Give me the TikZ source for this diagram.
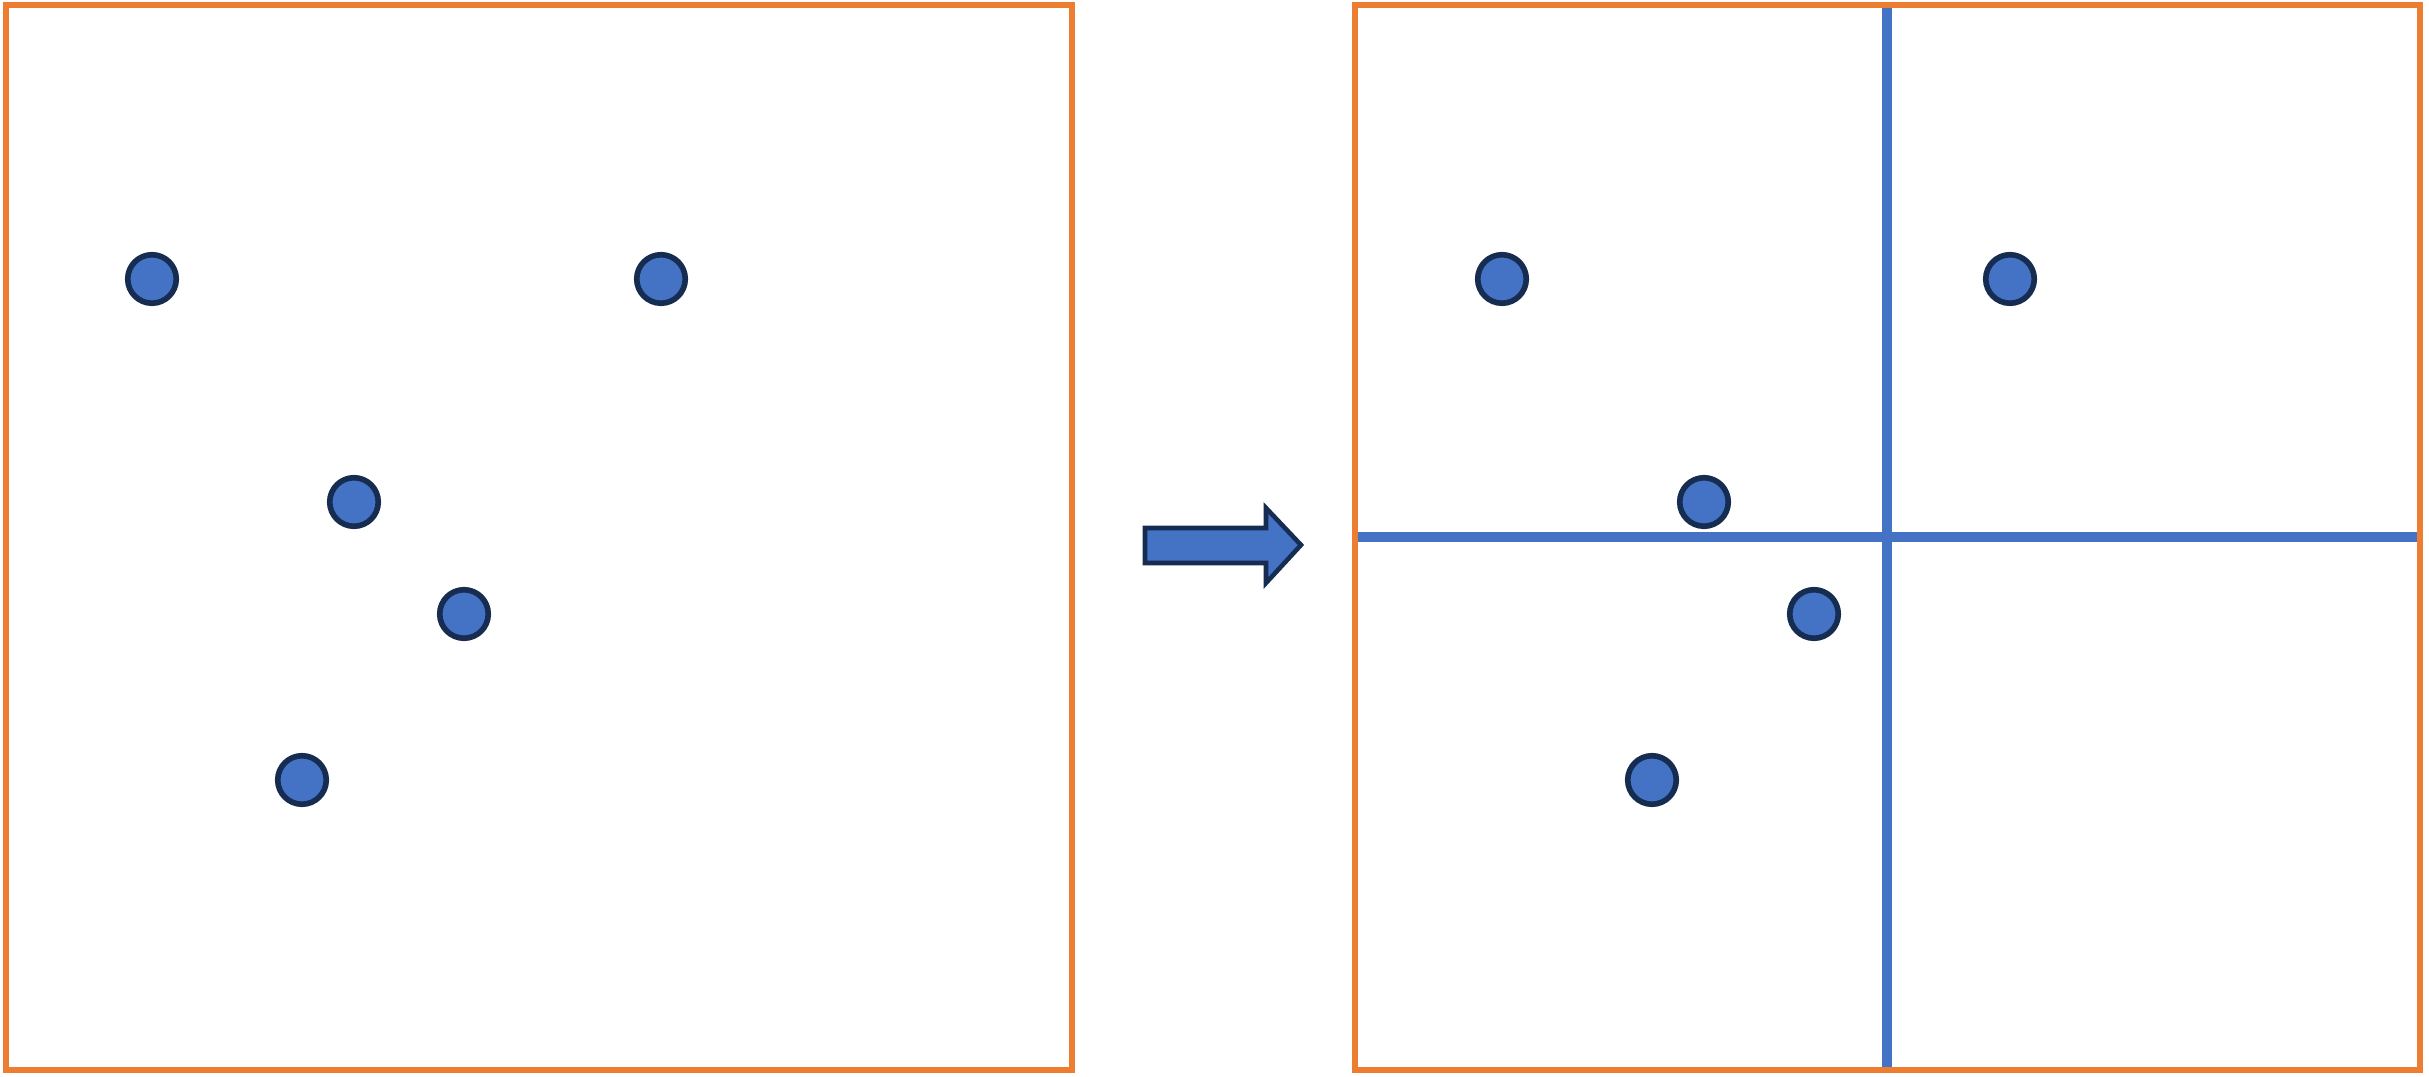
\documentclass[tikz,border=0pt]{standalone}
\usepackage{tikz}

\definecolor{boxorange}{HTML}{ED7D31}
\definecolor{ptblue}{HTML}{4472C4}
\definecolor{ptdark}{HTML}{172C51}

\tikzset{
  pt/.style={circle,draw=ptdark,fill=ptblue,line width=1.6pt,inner sep=0pt,minimum size=0.485cm},
  frame/.style={draw=boxorange,line width=1.6pt},
  split/.style={draw=ptblue,line width=2.7pt}
}

\begin{document}
\begin{tikzpicture}[x=0.01cm,y=-0.01cm]
   \useasboundingbox (0,0) rectangle (2429,1077);

   % split lines
   \path[split] (1887,4) -- (1887,1069);
   \path[split] (1355,537) -- (2420,537);

   % frames
   \path[frame] (6,5) rectangle (1072,1070);
   \path[frame] (1355,5) rectangle (2420,1070);

   % arrow
   \path[draw=ptdark,fill=ptblue,line width=1.3pt,line join=miter]
     (1145,528) -- (1266,528) -- (1266,508) -- (1301,545)
     -- (1266,583) -- (1266,563) -- (1145,563) -- cycle;

   % points before
   \node[pt] (p1) at (152,279) {};
   \node[pt] (p2) at (661,279) {};
   \node[pt] (p3) at (354,502) {};
   \node[pt] (p4) at (464,614) {};
   \node[pt] (p5) at (302,780) {};

   % points after
   \node[pt] (q1) at (1502,279) {};
   \node[pt] (q2) at (2010,279) {};
   \node[pt] (q3) at (1704,502) {};
   \node[pt] (q4) at (1814,614) {};
   \node[pt] (q5) at (1652,780) {};
\end{tikzpicture}
\end{document}
